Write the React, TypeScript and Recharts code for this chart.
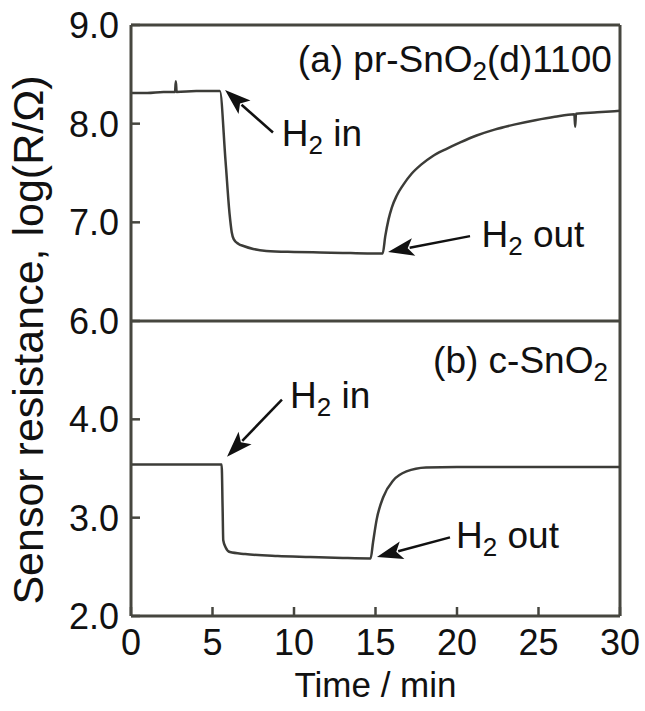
import React from "react";
import { LineChart, Line, XAxis, YAxis, ReferenceLine, ReferenceDot } from "recharts";

// panel (a) pr-SnO2(d)1100
const topTime = [0, 1, 2, 2.7, 2.75, 2.8, 4, 5, 5.45, 5.8, 6.05, 6.18, 6.3, 6.6, 6.9, 7.5, 8.3, 10, 11.6, 13, 14.5, 15.44, 15.6, 15.8, 16.0, 16.3, 16.7, 17.2, 17.8, 18.5, 19.3, 20.2, 21.2, 22.3, 23.5, 24.8, 26.0, 27.2, 27.25, 27.3, 28.6, 30];
const topValue = [8.31, 8.31, 8.32, 8.32, 8.43, 8.32, 8.33, 8.33, 8.33, 7.62, 7.08, 6.9, 6.83, 6.78, 6.76, 6.73, 6.71, 6.7, 6.695, 6.69, 6.685, 6.685, 6.86, 7.03, 7.15, 7.27, 7.38, 7.49, 7.585, 7.67, 7.74, 7.81, 7.88, 7.94, 7.99, 8.035, 8.07, 8.095, 7.97, 8.1, 8.115, 8.13];

// panel (b) c-SnO2
const bottomTime = [0, 5.56, 5.62, 5.66, 5.8, 6.07, 7, 9, 11, 13, 14.7, 14.85, 15.07, 15.48, 16.1, 16.9, 18.1, 20, 25, 30];
const bottomValue = [3.54, 3.54, 3.1, 2.77, 2.7, 2.65, 2.63, 2.61, 2.6, 2.59, 2.585, 2.75, 2.98, 3.21, 3.38, 3.47, 3.51, 3.515, 3.515, 3.515];

const xTicks = [0, 5, 10, 15, 20, 25, 30];
const topTicks = [6, 7, 8, 9];
const bottomTicks = [2, 3, 4];

const topData = topTime.map((t, i) => ({ t, v: topValue[i] }));
const bottomData = bottomTime.map((t, i) => ({ t, v: bottomValue[i] }));

const FONT = "'Liberation Sans', Arial, Helvetica, sans-serif";
const AXIS = "#46463f";
const LINE = "#3c3c38";

function YTick(props: any) {
  const { x, y, payload } = props;
  return (
    <g>
      <line x1={x} x2={x + 9} y1={y} y2={y} stroke={AXIS} strokeWidth={2.5} />
      <text x={x - 12} y={y} dy="0.36em" textAnchor="end" fontSize={36} fontFamily={FONT} fill="#111">
        {payload.value.toFixed(1)}
      </text>
    </g>
  );
}

function XTick(props: any) {
  const { x, y, payload } = props;
  return (
    <g>
      <line x1={x} x2={x} y1={y} y2={y - 9} stroke={AXIS} strokeWidth={2.5} />
      <text x={x} y={y + 26} dy="0.36em" textAnchor="middle" fontSize={36} fontFamily={FONT} fill="#111">
        {payload.value}
      </text>
    </g>
  );
}

// text with a subscript "2"
function note(before: string, after: string, anchor: "start" | "end" = "start") {
  return (props: any) => (
    <text x={props.cx} y={props.cy} textAnchor={anchor} fontSize={37} fontFamily={FONT} fill="#111">
      {before}
      <tspan dy={8} fontSize={26}>2</tspan>
      <tspan dy={-8}>{after}</tspan>
    </text>
  );
}

function arrow(props: any) {
  const { x1, y1, x2, y2 } = props;
  const dx = x2 - x1;
  const dy = y2 - y1;
  const len = Math.sqrt(dx * dx + dy * dy);
  const ux = dx / len;
  const uy = dy / len;
  const hl = 26;
  const hw = 9;
  const bx = x2 - ux * hl;
  const by = y2 - uy * hl;
  return (
    <g>
      <line x1={x1} y1={y1} x2={bx + ux * 4} y2={by + uy * 4} stroke="#111" strokeWidth={2.5} />
      <polygon
        points={`${x2},${y2} ${bx - uy * hw},${by + ux * hw} ${bx + ux * 6},${by + uy * 6} ${bx + uy * hw},${by - ux * hw}`}
        fill="#111"
      />
    </g>
  );
}

export default function App() {
  return (
    <div style={{ position: "absolute", left: 0, top: 0, width: 645, height: 711, background: "#fff" }}>
      <div style={{ position: "absolute", left: 0, top: 0 }}>
        <LineChart width={645} height={345} data={topData} margin={{ top: 25, right: 25, left: 0, bottom: 24 }}>
          <XAxis dataKey="t" type="number" domain={[0, 30]} ticks={xTicks} hide />
          <YAxis
            type="number"
            domain={[6, 9]}
            ticks={topTicks}
            width={131}
            tickSize={0}
            tickMargin={0}
            tickLine={false}
            axisLine={{ stroke: AXIS, strokeWidth: 3 }}
            tick={<YTick />}
            interval={0}
          />
          <ReferenceLine y={9} stroke={AXIS} strokeWidth={3} />
          <ReferenceLine y={6} stroke={AXIS} strokeWidth={3} />
          <ReferenceLine x={30} stroke={AXIS} strokeWidth={3} />
          <Line dataKey="v" type="monotone" stroke={LINE} strokeWidth={2.5} dot={false} isAnimationActive={false} />
          <ReferenceLine segment={[{ x: 8.71, y: 7.91 }, { x: 5.77, y: 8.34 }]} shape={arrow} />
          <ReferenceLine segment={[{ x: 20.8, y: 6.86 }, { x: 15.77, y: 6.7 }]} shape={arrow} />
          <ReferenceDot x={29.5} y={8.52} r={0} shape={note("(a) pr-SnO", "(d)1100", "end")} />
          <ReferenceDot x={9.25} y={7.77} r={0} shape={note("H", " in")} />
          <ReferenceDot x={21.5} y={6.75} r={0} shape={note("H", " out")} />
        </LineChart>
      </div>
      <div style={{ position: "absolute", left: 0, top: 321 }}>
        <LineChart width={645} height={390} data={bottomData} margin={{ top: 0, right: 25, left: 0, bottom: 0 }}>
          <XAxis
            dataKey="t"
            type="number"
            domain={[0, 30]}
            ticks={xTicks}
            height={95}
            tickSize={0}
            tickMargin={0}
            tickLine={false}
            axisLine={{ stroke: AXIS, strokeWidth: 3 }}
            tick={<XTick />}
            interval={0}
            label={{ value: "Time / min", position: "insideBottom", offset: 14, fontSize: 35, fill: "#111", fontFamily: FONT }}
          />
          <YAxis
            type="number"
            domain={[2, 5]}
            ticks={bottomTicks}
            width={131}
            tickSize={0}
            tickMargin={0}
            tickLine={false}
            axisLine={{ stroke: AXIS, strokeWidth: 3 }}
            tick={<YTick />}
            interval={0}
          />
          <ReferenceLine x={30} stroke={AXIS} strokeWidth={3} />
          <Line dataKey="v" type="monotone" stroke={LINE} strokeWidth={2.5} dot={false} isAnimationActive={false} />
          <ReferenceLine segment={[{ x: 9.26, y: 4.2 }, { x: 5.89, y: 3.62 }]} shape={arrow} />
          <ReferenceLine segment={[{ x: 19.57, y: 2.8 }, { x: 15.09, y: 2.6 }]} shape={arrow} />
          <ReferenceDot x={29.26} y={4.47} r={0} shape={note("(b) c-SnO", "", "end")} />
          <ReferenceDot x={9.75} y={4.115} r={0} shape={note("H", " in")} />
          <ReferenceDot x={19.94} y={2.69} r={0} shape={note("H", " out")} />
        </LineChart>
      </div>
      <svg width={70} height={711} style={{ position: "absolute", left: 0, top: 0 }}>
        <text
          transform="translate(43,340) rotate(-90)"
          textAnchor="middle"
          fontSize={43}
          fontFamily={FONT}
          fill="#111"
        >
          Sensor resistance, log(R/Ω)
        </text>
      </svg>
    </div>
  );
}
